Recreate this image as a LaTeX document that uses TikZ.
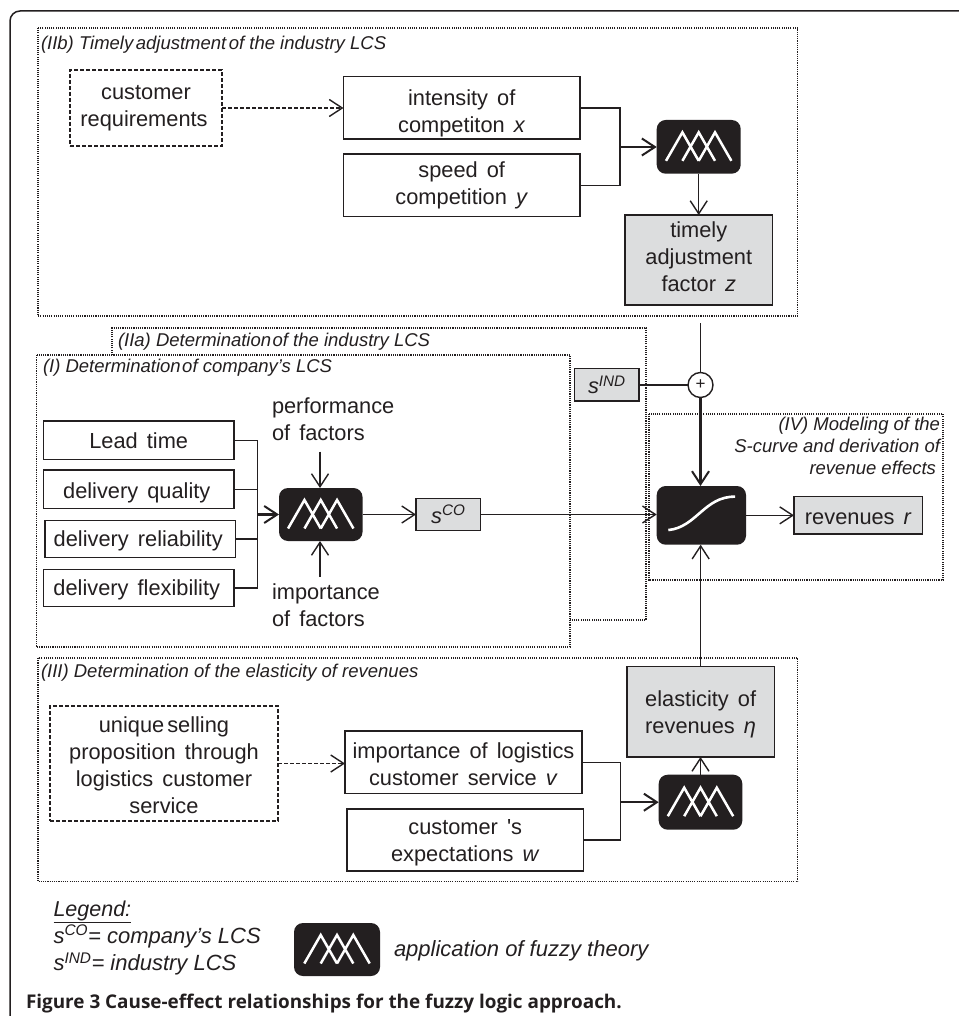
\documentclass[tikz,border=0pt]{standalone}
\usepackage{fontspec}
\usetikzlibrary{arrows.meta,calc}
\setmainfont{Liberation Sans}
\newfontfamily\boxfont{Liberation Sans}[WordSpace=1.5]
\newfontfamily\capfont{Open Sans}
\definecolor{ink}{HTML}{231F20}
\definecolor{panel}{HTML}{DCDDDE}
\tikzset{
  x=1pt,y=-1pt,
  every node/.style={text=ink,inner sep=0pt,outer sep=0pt},
  link/.style={draw=ink,line width=1.5},
  boldlink/.style={draw=ink,line width=2.3},
  tip/.style={-{Straight Barb[length=13pt,width=17pt,line width=1.4pt]}},
  boldtip/.style={-{Straight Barb[length=13pt,width=17pt,line width=2pt]}},
  dashlink/.style={draw=ink,line width=1.2,dash pattern=on 4pt off 2pt},
  plainbox/.style={draw=ink,line width=1.5,fill=white,align=center,font=\boxfont\fontsize{21.8}{27}\selectfont},
  greybox/.style={plainbox,fill=panel},
  dashbox/.style={plainbox,line width=1.2,dash pattern=on 4pt off 2pt},
  blackbox/.style={fill=ink,rounded corners=9pt},
  region/.style={draw=ink,line width=1.1,dash pattern=on 1.1pt off 1.1pt},
  regiontext/.style={font=\itshape\fontsize{18.5}{22}\selectfont,anchor=base west},
}
\newcommand{\boxat}[7]{%
  \pgfmathsetmacro{\bw}{#5-#3}\pgfmathsetmacro{\bh}{#6-#4}%
  \node[#1,minimum width=\bw pt,minimum height=\bh pt] (#2) at ({(#3+#5)/2},{(#4+#6)/2}) {#7};}
\newcommand{\fuzzyicon}[1]{%
  \draw[white,line width=2.5,line join=miter]
    ([shift={(-32.7,14)}]#1.center) -- ([shift={(-16.3,-14.5)}]#1.center) -- ([shift={(0,14)}]#1.center)
    ([shift={(-16.3,14)}]#1.center) -- ([shift={(0,-14.5)}]#1.center) -- ([shift={(16.3,14)}]#1.center)
    ([shift={(0,14)}]#1.center) -- ([shift={(16.3,-14.5)}]#1.center) -- ([shift={(32.7,14)}]#1.center);}
\newcommand{\itx}[1]{\textit{#1}}
% struts that move a box's text down (first line) or up (last line)
\newcommand{\dn}[1]{\rule{0pt}{\dimexpr 16pt+2\dimexpr #1pt\relax\relax}}
\newcommand{\up}[1]{\rule[-\dimexpr 2\dimexpr #1pt\relax\relax]{0pt}{\dimexpr 2\dimexpr #1pt\relax\relax}}
\begin{document}
\begin{tikzpicture}
\useasboundingbox (0,0) rectangle (958,1016);
\fill[white] (0,0) rectangle (958,1016);
% outer frame
\draw[draw=ink,line width=1.5,rounded corners=10pt] (10,1017) -- (10,11) -- (959,11);
% regions
\draw[region] (38,28) rectangle (797.7,316);
\draw[region] (112,355) -- (112,328) -- (646,328) -- (646,620) -- (570,620);
\draw[region,fill=white] (36.5,355) rectangle (570,647);
\draw[region] (649,414) rectangle (943,580);
\draw[region] (38,658) rectangle (797.7,881.7);
\node[regiontext] (t2b) at (41,50) {(IIb) Timely\kern2.5pt adjustment\kern2.5pt of the industry LCS};
\node[regiontext] (t2a) at (118,346) {(IIa) Determination\kern1.5pt of the industry LCS};
\node[regiontext] (t1) at (43,372) {(I) Determination\kern1.5pt of company's LCS};
\node[regiontext] (t3) at (41,677) {(III) Determination of the elasticity of revenues};
\node[font=\itshape\fontsize{18.5}{22}\selectfont,align=right,anchor=north east] (t4) at (940,417)
  {(IV) Modeling of the\\S-curve and derivation of\\revenue effects\kern4pt};
% section IIb
\boxat{dashbox}{cust}{70}{70}{222}{146}{customer\\requirements\kern4pt}
\boxat{plainbox}{inten}{343.5}{76.7}{580}{139}{\dn{5}intensity of\\competiton \itx{x}}
\boxat{plainbox}{speed}{343.5}{154}{580}{216.7}{speed of\\competition \itx{y}}
\boxat{blackbox}{fuzzA}{656.7}{120}{740.7}{173.7}{}
\fuzzyicon{fuzzA}
\boxat{greybox}{timely}{625}{215}{772.5}{305}{timely\\adjustment\\factor \itx{z}\up{3}}
\coordinate (busB) at (620,147);
\draw[link] (inten.east) -| (busB);
\draw[link] (speed.east) -| (busB);
\draw[boldlink,boldtip] (busB) -- (busB -| fuzzA.west);
\draw[dashlink,tip] (cust.east) -- (cust.east -| inten.west);
\draw[link,tip] (fuzzA.south) -- (fuzzA.south |- timely.north);
% section IIa
\boxat{greybox}{sind}{574.7}{368.7}{639}{401}{\itx{s}\textsuperscript{\itx{IND}}}
\node[draw=ink,line width=1.4,fill=white,circle,minimum size=25pt,font=\fontsize{17}{17}\selectfont] (sum) at (700.5,385) {+};
\coordinate (sumtop) at (700.5,323);
\draw[link] (sumtop) -- (sum.north);
\draw[link] (sind.east) -- (sind.east -| sum.west);
% section I
\boxat{plainbox}{lead}{43.5}{421}{234}{459.7}{Lead time}
\boxat{plainbox}{qual}{43.5}{470}{234}{508.7}{\dn{3}delivery quality\kern4pt}
\boxat{plainbox}{reli}{45}{520.7}{235.5}{557.7}{\dn{2}delivery reliability\kern4pt}
\boxat{plainbox}{flex}{43.5}{569.7}{234}{606.7}{\dn{2}delivery flexibility\kern4pt}
\boxat{blackbox}{fuzzB}{279}{488}{362.5}{541}{}
\fuzzyicon{fuzzB}
\boxat{greybox}{sco}{416}{498.3}{480.5}{530.7}{\itx{s}\textsuperscript{\itx{CO}}}
\coordinate (busA) at (257.3,514.5);
\draw[link] (lead.east) -| (busA);
\draw[link] (qual.east) -| (busA);
\draw[link] (reli.east) -| (busA);
\draw[link] (flex.east) -| (busA);
\draw[boldlink,boldtip] (busA) -- (fuzzB.west);
\node[font=\boxfont\fontsize{21.8}{27.5}\selectfont,align=left,anchor=base west] (perf) at (272,440.7) {performance\\of factors};
\node[font=\boxfont\fontsize{21.8}{27}\selectfont,align=left,anchor=base west] (impo) at (272,626.7) {importance\\of factors};
\coordinate (perfend) at (320,451.7);
\coordinate (impoend) at (320,576.7);
\draw[link,tip] (perfend) -- (perfend |- fuzzB.north);
\draw[link,tip] (impoend) -- (impoend |- fuzzB.south);
\draw[link,tip] (fuzzB.east) -- (sco.west);
% section IV
\boxat{blackbox}{scurve}{656.7}{486}{746}{544.7}{}
\draw[white,line width=2.6] ([shift={(-33,14.7)}]scurve.center) .. controls ([shift={(-5,12)}]scurve.center) and ([shift={(3,-19)}]scurve.center) .. ([shift={(33.7,-18.7)}]scurve.center);
\boxat{greybox}{rev}{794}{496.7}{922.7}{534}{\dn{1}revenues \itx{r}}
\draw[link,tip] (sco.east) -- (sco.east -| scurve.west);
\draw[link,tip] (scurve.east) -- (rev.west);
\draw[boldlink,boldtip] (sum.south) -- (sum.south |- scurve.north);
% section III
\boxat{dashbox}{usp}{50}{706}{278}{821}{\dn{2}unique\kern3pt selling\\proposition through\\logistics customer\\service}
\boxat{plainbox}{impl}{345}{731}{582}{793.7}{\dn{2}importance of logistics\\customer service \itx{v}}
\boxat{plainbox}{expe}{347}{809}{583.5}{871}{\dn{2}customer 's\\expectations \itx{w}}
\boxat{blackbox}{fuzzC}{658.7}{774.7}{742.3}{829.7}{}
\fuzzyicon{fuzzC}
\boxat{greybox}{elas}{627}{666.7}{774.3}{757}{\dn{2}elasticity of\\revenues \itx{η}}
\coordinate (busC) at (620.5,802.2);
\draw[link] (impl.east) -| (busC);
\draw[link] (expe.east) -| (busC);
\draw[boldlink,boldtip] (busC) -- (fuzzC.west);
\draw[dashlink,tip] (usp.east) -- (usp.east -| impl.west);
\draw[link,tip] (fuzzC.north) -- (fuzzC.north |- elas.south);
\draw[link,tip] (elas.north) -- (elas.north |- scurve.south);
% legend
\node[font=\itshape\fontsize{21.5}{27}\selectfont,anchor=base west] (lega) at (53.5,916) {\underline{Legend:}};
\node[font=\itshape\fontsize{22}{27}\selectfont,anchor=base west] (legb) at (53.5,943) {s\textsuperscript{CO}= company's LCS};
\node[font=\itshape\fontsize{22}{27}\selectfont,anchor=base west] (legc) at (53.5,970.7) {s\textsuperscript{IND}= industry LCS};
\boxat{blackbox}{fuzzL}{294}{923}{380}{976}{}
\fuzzyicon{fuzzL}
\node[font=\itshape\fontsize{22}{24}\selectfont,anchor=base west] (legd) at (394,956) {application of fuzzy theory};
\node[font=\capfont\bfseries\fontsize{18.9}{23}\selectfont,anchor=base west] (cap) at (26,1008) {Figure 3 Cause-effect relationships for the fuzzy logic approach.};
\end{tikzpicture}
\end{document}
